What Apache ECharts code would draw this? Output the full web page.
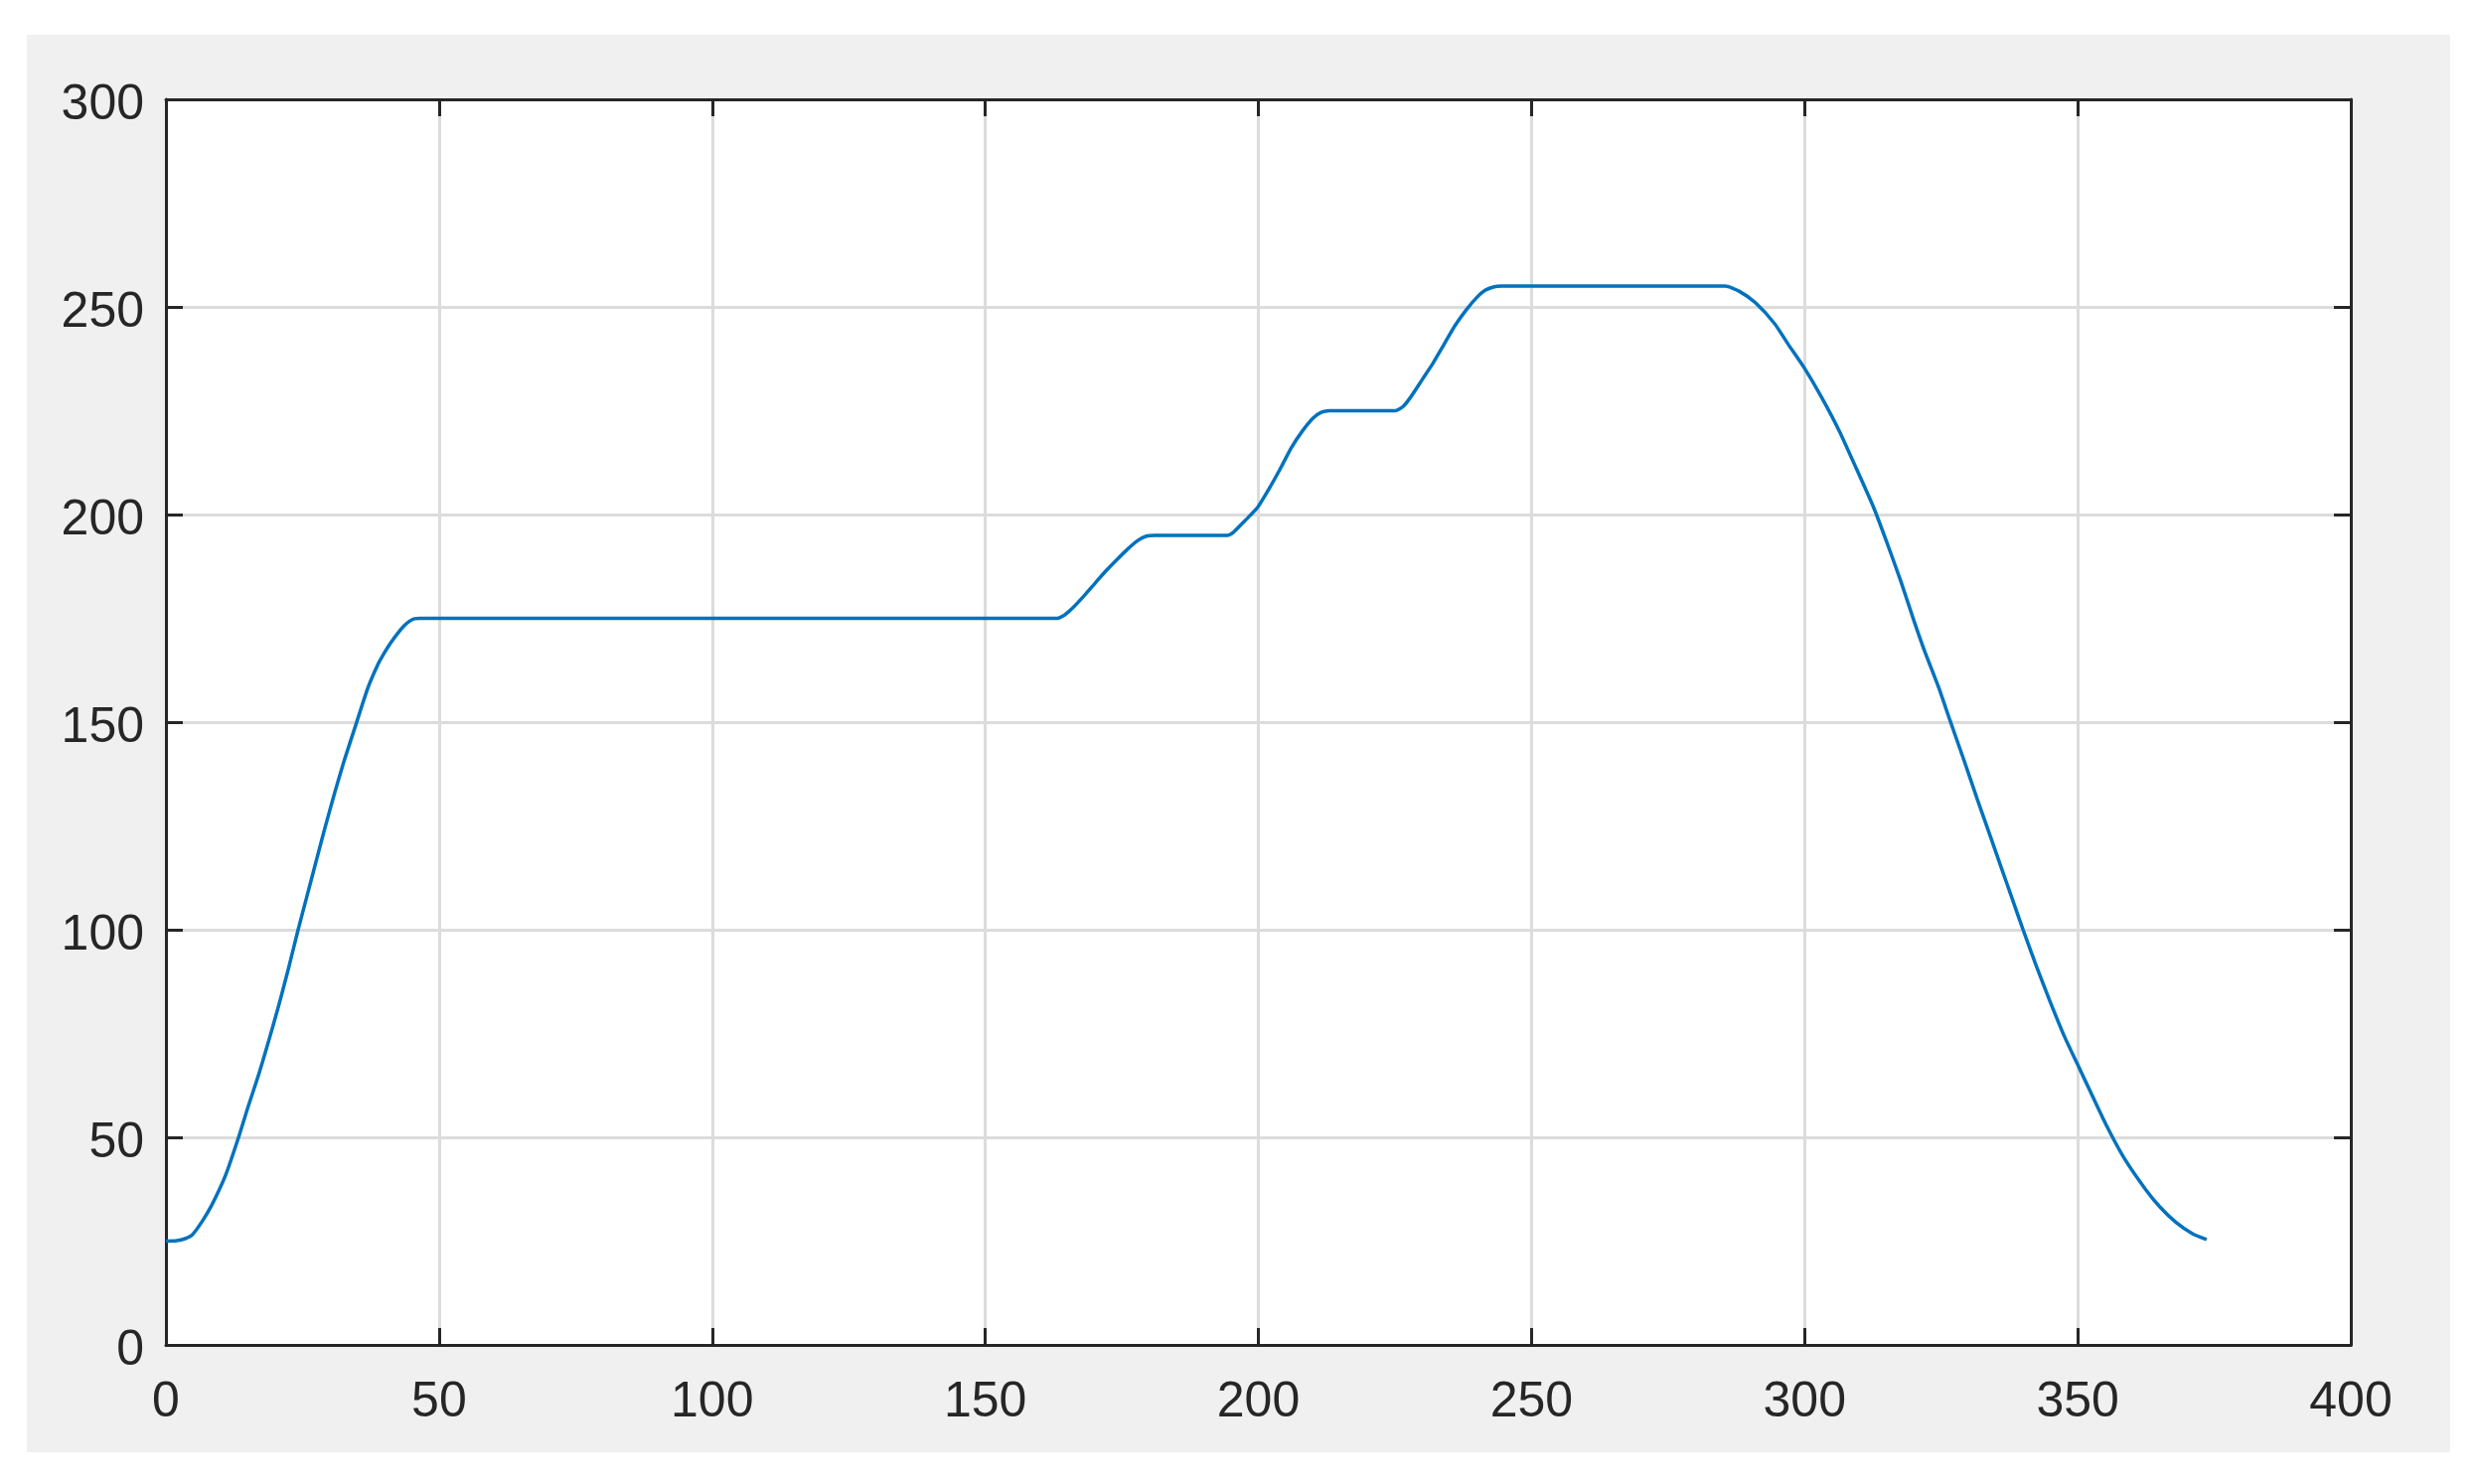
<!DOCTYPE html>
<html>
<head>
<meta charset="utf-8">
<title>chart</title>
<script src="https://cdn.jsdelivr.net/npm/echarts@6/dist/echarts.min.js"></script>
<style>
    html, body { margin: 0; padding: 0; background: #ffffff; }
    #main { position: absolute; left: 27px; top: 35px; width: 2439px; height: 1427px; }
</style>
</head>
<body>
<div id="main"></div>
<script>
    // x and y
    var xs = [0, 2, 3.5, 4.8, 6.6, 8.4, 10.9, 13.3, 15.1, 16.9, 18.7, 20.6, 22.4, 24.2, 25.7, 27.2, 29.0, 30.9, 32.7, 34.8, 36.9, 38.7, 40, 41.2, 42.5, 43.6, 44.6, 45.5, 46.5,
        163, 164.5, 166, 168, 170, 172, 174, 176, 178, 179.5, 181,
        194.3, 195.5, 197, 198.5, 200, 202, 204, 206, 208, 210, 211.5, 213,
        225.1, 226.5, 228, 230, 232, 234, 236, 238, 240, 241.5, 243, 244.5,
        285.5, 288, 291, 294.5, 297, 300, 303, 306.4, 309.5, 312.7, 315, 317.6, 320, 322, 324.5, 326.6, 329, 331.6, 334, 336, 338, 340,
        342.5, 345, 347.5, 350, 352.5, 355.4, 358.5, 362.4, 365, 368, 371, 373.6];
    var ys = [25, 25.1, 25.6, 26.5, 29.7, 33.7, 40.8, 50, 57.6, 64.8, 72.7, 81.5, 90.5, 100, 107.5, 115, 124, 133, 141, 149.5, 158, 163.6, 166.7, 169.2, 171.5, 173.2, 174.3, 174.9, 175,
        175, 175.8, 177.5, 180.3, 183.3, 186.3, 189, 191.6, 193.8, 194.8, 195,
        195, 195.8, 197.8, 199.8, 202, 206.3, 211, 216, 220, 223.2, 224.6, 225,
        225, 226, 228.5, 232.5, 236.5, 241, 245.5, 249.2, 252.3, 254, 254.8, 255,
        255, 253.8, 251, 246, 241, 235.2, 228.5, 220, 211, 201.5, 193.5, 184, 174.5, 167, 158.5, 150.5, 141.5, 131.5, 122.5, 115, 107.5, 100,
        91, 82.5, 74.5, 67.5, 60.5, 52.5, 45, 37.5, 33.3, 29.5, 26.8, 25.4];

    var xTicks = [0, 50, 100, 150, 200, 250, 300, 350, 400];
    var yTicks = [0, 50, 100, 150, 200, 250, 300];

    var pts = [];
    for (var i = 0; i < xs.length; i++) {
        pts.push([xs[i], ys[i]]);
    }

    var ink = '#262626';
    var fontName = 'Liberation Sans, Arial, sans-serif';

    function tickStyle() {
        return { show: true, inside: true, length: 17, lineStyle: { color: ink, width: 3 } };
    }

    var myChart = echarts.init(document.getElementById('main'));
    var option = {
        backgroundColor: '#f0f0f0',
        animation: false,
        grid: {
            left: 140, top: 65, right: 100, bottom: 108,
            show: true, backgroundColor: '#ffffff', borderColor: ink, borderWidth: 0
        },
        xAxis: [{
            type: 'value', min: xTicks[0], max: xTicks[xTicks.length - 1], interval: 50,
            position: 'bottom',
            axisLine: { show: true, onZero: false, lineStyle: { color: ink, width: 3 } },
            axisTick: tickStyle(),
            axisLabel: { color: ink, fontSize: 50, fontFamily: fontName, margin: 33 },
            splitLine: { show: true, lineStyle: { color: '#dcdcdc', width: 3 } }
        }, {
            type: 'value', min: xTicks[0], max: xTicks[xTicks.length - 1], interval: 50,
            position: 'top',
            axisLine: { show: true, onZero: false, lineStyle: { color: ink, width: 3 } },
            axisTick: tickStyle(),
            axisLabel: { show: false },
            splitLine: { show: false }
        }],
        yAxis: [{
            type: 'value', min: yTicks[0], max: yTicks[yTicks.length - 1], interval: 50,
            position: 'left',
            axisLine: { show: true, onZero: false, lineStyle: { color: ink, width: 3 } },
            axisTick: tickStyle(),
            axisLabel: {
                margin: 22,
                formatter: '{a|{value}}',
                rich: { a: { color: ink, fontSize: 50, fontFamily: fontName, padding: [12, 0, 0, 0] } }
            },
            splitLine: { show: true, lineStyle: { color: '#dcdcdc', width: 3 } }
        }, {
            type: 'value', min: yTicks[0], max: yTicks[yTicks.length - 1], interval: 50,
            position: 'right',
            axisLine: { show: true, onZero: false, lineStyle: { color: ink, width: 3 } },
            axisTick: tickStyle(),
            axisLabel: { show: false },
            splitLine: { show: false }
        }],
        series: [{
            type: 'line',
            data: pts,
            showSymbol: false,
            smooth: 0.2,
            lineStyle: { color: '#0072bd', width: 3.5 }
        }]
    };
    myChart.setOption(option);
</script>
</body>
</html>
